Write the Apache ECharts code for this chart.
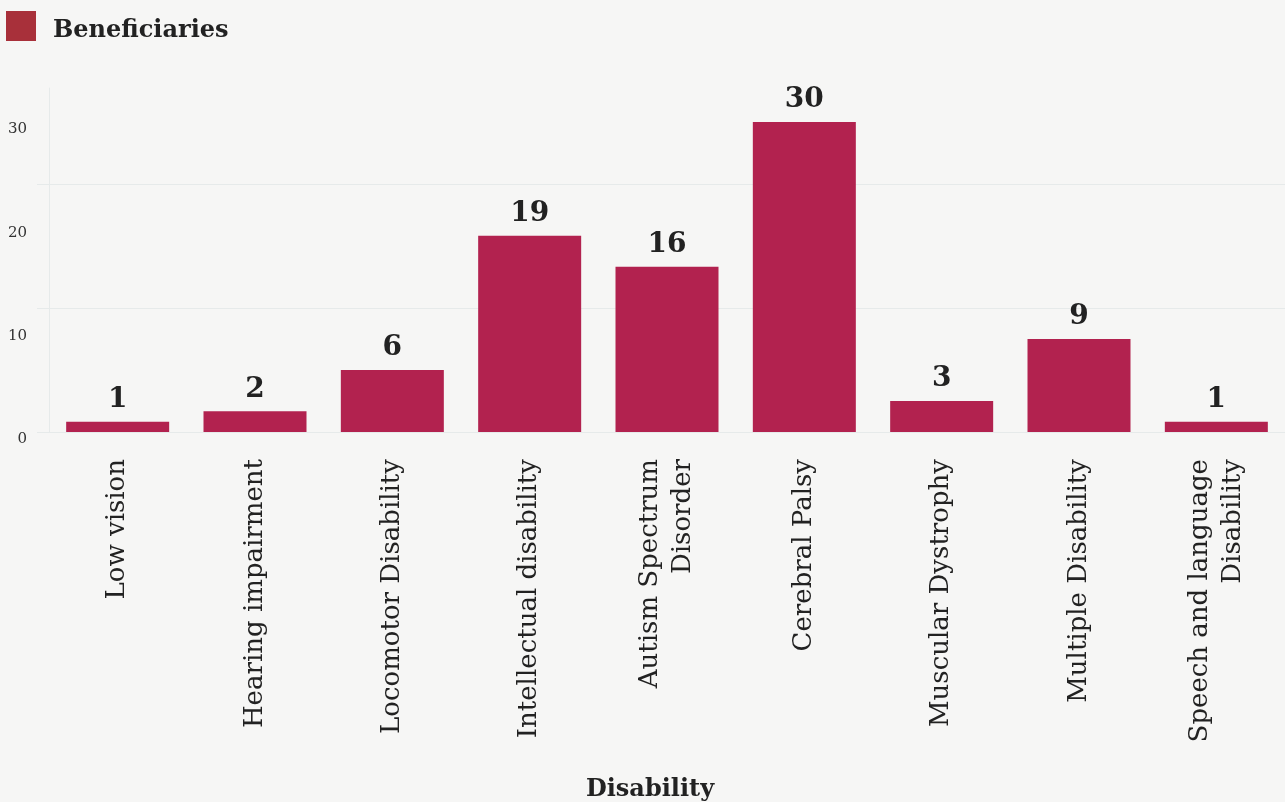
<!DOCTYPE html>
<html><head><meta charset="utf-8">
<script src="https://cdn.jsdelivr.net/npm/echarts@6/dist/echarts.min.js"></script>
<style>html,body{margin:0;padding:0;background:#f6f6f5;overflow:hidden}#c{width:1285px;height:802px}</style>
</head><body><div id="c"></div>
<script>
const categories = ["Low vision","Hearing impairment","Locomotor Disability","Intellectual disability","Autism Spectrum Disorder","Cerebral Palsy","Muscular Dystrophy","Multiple Disability","Speech and language Disability"];
const beneficiaries = [1,2,6,19,16,30,3,9,1];
const yTickLabels = [0,10,20,30];
const gridTicks = [0,12,24];
const FONT = "DejaVu Serif";
function wrap(s){
  if (s.length <= 23) return s;
  const words = s.split(' ');
  let line = '', out = [];
  for (const w of words){
    if ((line + ' ' + w).trim().length > 19 && line){ out.push(line); line = w; }
    else line = (line + ' ' + w).trim();
  }
  out.push(line);
  return out.join('\n');
}
const chart = echarts.init(document.getElementById('c'));
chart.setOption({
  backgroundColor: '#f6f6f5',
  animation: false,
  textStyle: {fontFamily: FONT},
  legend: {
    left: 6, top: 11, padding: 0, itemWidth: 30, itemHeight: 30, icon: 'rect', itemGap: 16,
    formatter: '{t|{name}}',
    textStyle: {fontFamily: FONT, fontWeight: 'bold', fontSize: 24, color: '#222',
      rich: {t: {fontFamily: FONT, fontWeight: 'bold', fontSize: 24, color: '#222', padding: [9,0,0,12]}}},
    data: [{name: 'Beneficiaries', itemStyle: {color: '#a8303a'}}]
  },
  grid: {left: 49, right: 0, top: 88, bottom: 370, containLabel: false, outerBoundsMode: 'none'},
  xAxis: {
    type: 'category', data: categories,
    axisLine: {show: false}, axisTick: {show: false},
    axisLabel: {rotate: 90, interval: 0, margin: 27, fontFamily: FONT, fontSize: 26, color: '#222', formatter: wrap, lineHeight: 33},
    name: 'Disability', nameLocation: 'middle', nameGap: 346,
    nameTextStyle: {fontFamily: FONT, fontWeight: 'bold', fontSize: 24, color: '#222', padding: [0,34,0,0]}
  },
  yAxis: [
    {
      type: 'value', min: 0, max: 33.3, interval: 10, position: 'left',
      axisLine: {show: true, lineStyle: {color: '#e6eaea'}},
      axisTick: {show: false}, splitLine: {show: false},
      axisLabel: {margin: 22, fontFamily: FONT, fontSize: 15, color: '#333', verticalAlign: 'top',
        formatter: v => yTickLabels.includes(v) ? String(v) : ''}
    },
    {
      type: 'value', min: 0, max: 33.3, interval: 12, position: 'left', offset: 0,
      axisLine: {show: false}, axisLabel: {show: false},
      axisTick: {show: true, length: 12, customValues: gridTicks, lineStyle: {color: '#e6eaea'}},
      splitLine: {show: true, lineStyle: {color: '#e6eaea', width: 1}}
    }
  ],
  series: [{
    name: 'Beneficiaries', type: 'bar', data: beneficiaries, yAxisIndex: 0,
    barCategoryGap: '25%',
    itemStyle: {color: '#b2224f'},
    label: {show: true, position: 'top', distance: 8, fontFamily: FONT, fontWeight: 'bold', fontSize: 28, color: '#222'}
  }]
});
</script></body></html>
